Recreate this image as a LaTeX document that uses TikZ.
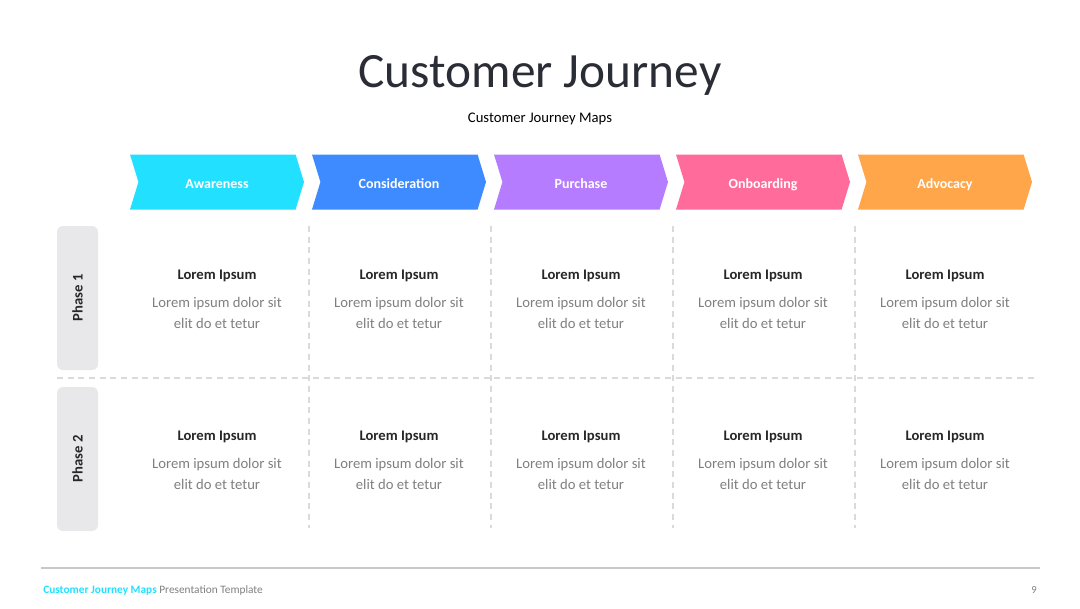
\documentclass[tikz,border=0pt]{standalone}
\usepackage{fontspec}
\setmainfont{Carlito}
\usetikzlibrary{shapes.symbols}

\definecolor{titlegray}{HTML}{2B2D36}
\definecolor{textgray}{HTML}{7F7F7F}
\definecolor{darktext}{HTML}{262626}
\definecolor{phasegray}{HTML}{E8E8EA}
\definecolor{dashgray}{HTML}{DADADA}
\definecolor{rulegray}{HTML}{C8C8C8}
\definecolor{awarecol}{HTML}{22E0FF}
\definecolor{considercol}{HTML}{3D8BFF}
\definecolor{purchasecol}{HTML}{B57CFF}
\definecolor{onboardcol}{HTML}{FF6B9A}
\definecolor{advocacycol}{HTML}{FFA54A}

\begin{document}
\begin{tikzpicture}[x=0.75pt, y=-0.75pt,
  chevron/.style={shape=signal, signal from=west, signal to=east,
    signal pointer angle=146, minimum width=130.5pt, minimum height=41.25pt,
    inner sep=0pt, text=white, text height=9.4pt, text depth=0pt,
    font=\fontsize{10.5}{12}\selectfont\bfseries},
  phasebox/.style={fill=phasegray, rounded corners=4.5pt, minimum width=30.75pt,
    minimum height=108pt, inner sep=0pt},
  phasetext/.style={rotate=90, text=darktext, font=\fontsize{11}{13}\selectfont\bfseries},
  celltitle/.style={text=darktext, text height=8pt, text depth=0pt,
    font=\fontsize{11}{13}\selectfont\bfseries, inner sep=0pt},
  celltext/.style={text=textgray, align=center, font=\fontsize{11}{15.75}\selectfont, inner sep=0pt},
  sep/.style={draw=dashgray, line width=0.9pt, dash pattern=on 4.5pt off 3.5pt}]
  \useasboundingbox (0,0) rectangle (1080,608);

  % heading
  \node[text=titlegray, font=\fontsize{37}{42}\selectfont] (title) at (540,75) {Customer Journey};
  \node[text=black, font=\fontsize{11}{13}\selectfont] (subtitle) at (540,119) {Customer Journey Maps};

  % stages
  \node[chevron, fill=awarecol] (aware) at (217,182) {Awareness};
  \node[chevron, fill=considercol] (consider) at (399,182) {Consideration};
  \node[chevron, fill=purchasecol] (purchase) at (581,182) {Purchase};
  \node[chevron, fill=onboardcol] (onboard) at (763,182) {Onboarding};
  \node[chevron, fill=advocacycol] (advocacy) at (945,182) {Advocacy};

  % phases
  \node[phasebox] (phaseA) at (77.5,298) {};
  \node[phasetext] (phaseAtext) at (phaseA) {Phase 1};
  \node[phasebox] (phaseB) at (77.5,459) {};
  \node[phasetext] (phaseBtext) at (phaseB) {Phase 2};

  % separators
  \coordinate (HL) at (57,378);
  \coordinate (HR) at (1035,378);
  \draw[sep] (HL) -- (HR);
  \foreach \x in {309,491,673,855}
    \draw[sep] (\x,226) -- (\x,528);

  % cells
  \foreach \x [count=\i] in {217,399,581,763,945} {
    \node[celltitle] (ta\i) at (\x,274) {Lorem Ipsum};
    \node[celltext] (ba\i) at (\x,313) {Lorem ipsum dolor sit\\elit do et tetur};
    \node[celltitle] (tb\i) at (\x,435) {Lorem Ipsum};
    \node[celltext] (bb\i) at (\x,474) {Lorem ipsum dolor sit\\elit do et tetur};
  }

  % footer
  \coordinate (FL) at (41,568);
  \coordinate (FR) at (1040,568);
  \draw[rulegray, line width=1.2pt] (FL) -- (FR);
  \node[anchor=west, inner sep=0pt, font=\fontsize{8.5}{10}\selectfont] (footer) at (43,590)
    {\textcolor{awarecol}{\bfseries Customer Journey Maps} \textcolor{textgray}{Presentation Template}};
  \node[text=textgray, font=\fontsize{8}{10}\selectfont, inner sep=0pt] (pagenum) at (1034,590) {9};
\end{tikzpicture}
\end{document}
